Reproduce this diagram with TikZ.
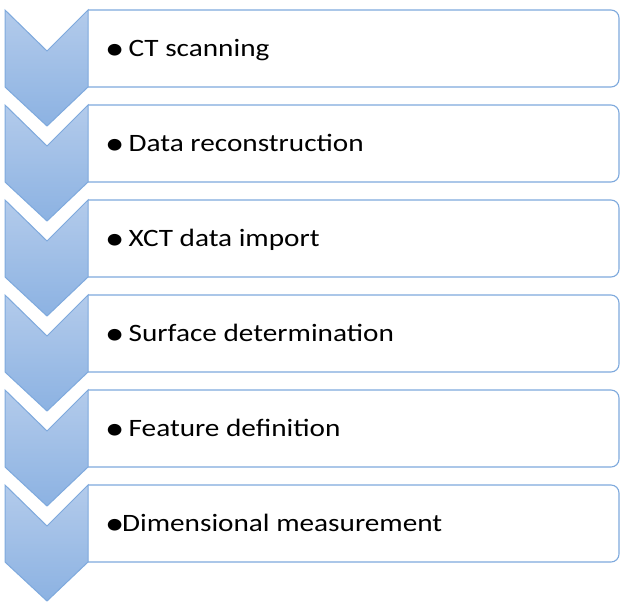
\documentclass[tikz,border=0pt]{standalone}
\usepackage{fontspec}
\setmainfont{Carlito}
\usetikzlibrary{positioning}
\definecolor{cEdge}{HTML}{7EA9DD}
\definecolor{cTop} {HTML}{B3CBEB}
\definecolor{cBot} {HTML}{8CB2E2}
\tikzset{
  chev/.style   ={draw=cEdge,line width=1pt,top color=cTop,bottom color=cBot,
                  line join=miter},
  stepbox/.style={draw=cEdge,line width=1.1pt,fill=white,rounded corners=8pt},
  txt/.style    ={anchor=base west,inner sep=0pt,text=black,
                  font=\fontsize{25}{29}\selectfont},
}
\newcommand\widetxt[1]{\scalebox{1.17}[1]{#1}}
\newcommand\bul{\raisebox{-3pt}{\fontsize{33}{33}\selectfont\textbullet}\kern-2pt}
\begin{document}
\begin{tikzpicture}[x=1pt, y=-1pt]
\useasboundingbox (0,0) rectangle (620,603);
\def\xL{5}      % chevron left
\def\xM{47}     % chevron middle
\def\xR{88}     % chevron right / box left
\def\xE{619}    % box right
\def\dy{95}     % pitch of the steps

\foreach \lbl [count=\i from 0] in {%
  {\bul\ CT scanning},
  {\bul\ Data reconstruction},
  {\bul\ XCT data import},
  {\bul\ Surface determination},
  {\bul\ Feature definition},
  {\bul Dimensional measurement}}
{
  \pgfmathsetmacro\yT{10+\i*\dy}
  \pgfmathsetmacro\yB{\yT+77}
  % box on the right, rounded on its right side only
  \draw[stepbox] (\xR,\yT) -- (\xE,\yT) -- (\xE,\yB) -- (\xR,\yB);
  % chevron on the left
  \draw[chev] (\xL,\yT) -- (\xM,\yT+41) -- (\xR,\yT) -- (\xR,\yB)
    -- (\xM,\yB+39) -- (\xL,\yB) -- cycle;
  \node[txt] (step\i) at (105,\yT+46.5) {\widetxt{\lbl}};
}
\end{tikzpicture}
\end{document}
